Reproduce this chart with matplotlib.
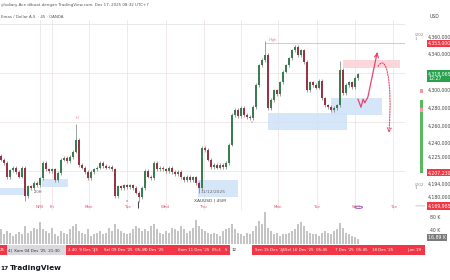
import numpy as np
import matplotlib
matplotlib.use("Agg")
from matplotlib import pyplot as plt
from matplotlib import patches
from matplotlib.path import Path
import matplotlib.transforms as mtransforms

# closing prices, one per 45m candle
closes = [4222, 4218, 4202, 4210, 4213, 4208, 4203, 4213, 4181, 4192,
          4190, 4196, 4193, 4201, 4218, 4211, 4209, 4211, 4199, 4207,
          4222, 4224, 4220, 4225, 4231, 4244, 4216, 4213, 4208, 4201,
          4208, 4211, 4213, 4218, 4215, 4213, 4214, 4211, 4181, 4192,
          4190, 4193, 4191, 4193, 4190, 4185, 4180, 4190, 4209, 4203,
          4201, 4218, 4211, 4213, 4211, 4209, 4213, 4208, 4206, 4208,
          4202, 4199, 4203, 4199, 4202, 4196, 4190, 4235, 4233, 4222,
          4214, 4216, 4213, 4216, 4214, 4218, 4239, 4272, 4278, 4271,
          4280, 4272, 4270, 4269, 4281, 4306, 4328, 4334, 4340, 4280,
          4289, 4300, 4296, 4309, 4321, 4328, 4336, 4345, 4349, 4340,
          4345, 4332, 4300, 4309, 4306, 4303, 4311, 4291, 4283, 4281,
          4278, 4280, 4283, 4323, 4297, 4306, 4309, 4304, 4314, 4318]
first_open = 4226
hi_spike = {25: 4262, 88: 4356, 113: 4333}
lo_spike = {8: 4176, 46: 4174, 66: 4184}

# volume in K
volume = [45, 30, 40, 35, 25, 30, 38, 30, 55, 35, 40, 50, 45, 67,
          45, 40, 35, 50, 30, 25, 40, 35, 30, 45, 55, 60, 40, 35,
          30, 45, 25, 30, 35, 40, 30, 35, 50, 40, 60, 45, 40, 35,
          30, 35, 45, 55, 50, 40, 45, 40, 55, 60, 45, 35, 30, 40,
          35, 50, 45, 40, 55, 45, 35, 40, 50, 75, 55, 45, 40, 35,
          30, 35, 30, 25, 40, 45, 50, 60, 45, 35, 30, 25, 35, 30,
          40, 55, 70, 60, 98, 50, 40, 30, 35, 25, 30, 30, 35, 40,
          45, 60, 67, 55, 40, 35, 30, 30, 25, 35, 40, 35, 30, 40,
          45, 65, 50, 35, 30, 25, 20, 15]

day_pos = [13, 17, 29.3, 42, 54.7, 67.3, 92.3, 105.3, 118, 130.7]
day_lbl = ['NFB', 'Fri', 'Mon', 'Tue', 'Wed', 'Thu', 'Mon', 'Tue', 'We', 'Tue']
grid_x = [13, 17, 29.3, 42, 55, 67.7, 80, 92.3, 105.3, 118, 130.7]
grid_p = [4319.5, 4264, 4209]

price_ticks = [4360, 4340, 4300, 4280, 4260, 4240, 4225, 4194, 4180]
price_tick_lbl = ['4,360,000', '4,340,000', '4,300,000', '4,280,000', '4,260,000',
                  '4,240,000', '4,225,000', '4,194,000', '4,180,000']
red_marks = [(4353, '4,353,000'), (4207.2, '4,207,230'), (4170, '4,169,985')]
last_price = 4318

# drawn zones: (i0, i1, p_low, p_high)
blue_zones = [(-0.4, 8, 4182, 4190), (13.7, 22.3, 4191, 4200), (65.7, 79, 4180, 4199),
              (89, 115.3, 4255, 4274.5), (110, 127, 4272, 4291)]
pink_zone = (114, 133, 4325, 4334)

UP = '#3a7d50'
DOWN = '#9b3346'
RED = '#f23645'
ARROW = '#e8456b'

fig = plt.figure(figsize=(4.5, 2.8), dpi=100)
fig.patch.set_facecolor('white')

ax = fig.add_axes([0, 1 - 210 / 280, 405 / 450, 190 / 280])
axv = fig.add_axes([0, 1 - 244 / 280, 405 / 450, 34 / 280])
for a in (ax, axv):
    a.set_xlim(-1 / 3, 134.67)
    a.axis('off')
ax.set_ylim(4165.4, 4379.1)
axv.set_ylim(0, 104.6)

# grid
for gx in grid_x:
    ax.axvline(gx, color='#efe4e6', lw=0.6, zorder=0)
for gp in grid_p:
    ax.axhline(gp, color='#efe4e6', lw=0.6, zorder=0)
ax.axhline(4374.6, color='#e4e4e4', lw=0.6, zorder=0)

# zones
for i0, i1, p0, p1 in blue_zones:
    ax.add_patch(patches.Rectangle((i0, p0), i1 - i0, p1 - p0, facecolor='#cfe2f8',
                                   edgecolor='none', alpha=0.85, zorder=1))
i0, i1, p0, p1 = pink_zone
ax.add_patch(patches.Rectangle((i0, p0), i1 - i0, p1 - p0, facecolor='#fbd3d8',
                               edgecolor='none', alpha=0.9, zorder=1))
ax.plot([88, 134.67], [4353, 4353], color='#f6a0aa', lw=0.5, zorder=1)

# candles
x = np.arange(len(closes))
c = np.array(closes, dtype=float)
o = np.concatenate([[first_open], c[:-1]])
hi = np.maximum(o, c) + 2
lo = np.minimum(o, c) - 2
for k, v in hi_spike.items():
    hi[k] = v
for k, v in lo_spike.items():
    lo[k] = v
cols = [UP if cc >= oo else DOWN for oo, cc in zip(o, c)]
ax.vlines(x, lo, hi, color='#7a7a7a', lw=0.5, zorder=2)
ax.bar(x, np.maximum(np.abs(c - o), 0.8), bottom=np.minimum(o, c), width=0.55,
       color=cols, edgecolor='none', zorder=3)

# volume
axv.bar(x, volume, width=0.75, color='#c4c4c4', edgecolor='none')

# arrows
zig = [(119, 4290), (120, 4281), (120.7, 4290), (121.3, 4286), (122.3, 4292.5), (125.3, 4341)]
ax.plot([p[0] for p in zig], [p[1] for p in zig], color=ARROW, lw=0.9, zorder=5)
ax.annotate('', xy=(125.6, 4346), xytext=(125.2, 4338),
            arrowprops=dict(arrowstyle='->', color=ARROW, lw=0.9, mutation_scale=7), zorder=5)
verts = [(125.7, 4327), (128.3, 4342), (130.6, 4312), (129.3, 4252)]
curve = patches.FancyArrowPatch(path=Path(verts, [Path.MOVETO, Path.CURVE4, Path.CURVE4, Path.CURVE4]),
                                arrowstyle='->', mutation_scale=7, color=ARROW, lw=0.8,
                                linestyle=(0, (1.2, 1.2)), zorder=5)
ax.add_patch(curve)

# small chart marks
ax.text(25.5, 4269, 'H', color='#e8788a', fontsize=2.6, ha='center', va='center')
ax.text(90.5, 4356.5, 'High', color='#e8788a', fontsize=2.6, ha='center', va='center')
ax.text(42, 4175, 'x', color='#e0506a', fontsize=2.8, ha='center', va='center')
ax.text(83.7, 4264, 'x', color='#999999', fontsize=2.8, ha='center', va='center')
ax.text(11, 4186, '2.0H', color='#555555', fontsize=2.6, ha='left', va='center')
ax.text(66.5, 4186, '11/12/2025', color='#666666', fontsize=3.2, ha='left', va='center')
ax.text(64.5, 4176.5, 'XAUUSD | 45M', color='#444444', fontsize=3.2, ha='left', va='center')
ax.vlines(45.7, 4168, 4175, color='#222222', lw=0.6)
for dp, dl in zip(day_pos, day_lbl):
    ax.text(dp, 4168.5, dl, color='#e0506a', fontsize=2.9, ha='center', va='center')
ax.add_patch(patches.Circle((119.2, 4168.5), 1.3, transform=ax.transData, fill=False,
                            edgecolor='#8e44ad', lw=0.6))
ax.text(119.2, 4168.5, '⚡', color='#8e44ad', fontsize=2.4, ha='center', va='center')

# price scale
tr = mtransforms.blended_transform_factory(ax.transAxes, ax.transData)
xl = 428 / 405
for p, s in zip(price_ticks, price_tick_lbl):
    ax.text(xl, p, s, transform=tr, fontsize=3.3, color='#444444', va='center',
            ha='left', clip_on=False)
for p, s in red_marks:
    ax.text(xl, p, s, transform=tr, fontsize=3.3, color='white', va='center', ha='left',
            clip_on=False, bbox=dict(boxstyle='square,pad=0.25', fc=RED, ec='none'))
ax.text(xl, last_price - 2, '4,318,065\n12:27', transform=tr, fontsize=3.3, color='white',
        va='center', ha='left', linespacing=0.9, clip_on=False,
        bbox=dict(boxstyle='square,pad=0.25', fc='#2aa14f', ec='none'))
ax.text(415 / 405, 4360, '(202\n1', transform=tr, fontsize=3, color='#888888',
        va='center', ha='left', linespacing=0.9, clip_on=False)
ax.text(415 / 405, 4192, '(202\n1', transform=tr, fontsize=3, color='#888888',
        va='center', ha='left', linespacing=0.9, clip_on=False)
ax.add_patch(patches.Rectangle((420 / 405, 4207), 3 / 405, 82, transform=tr,
                               fc='#5cb85c', ec='none', clip_on=False))
ax.add_patch(patches.Rectangle((420 / 405, 4276), 3 / 405, 4, transform=tr,
                               fc='#f29aa3', ec='none', clip_on=False))
ax.add_patch(patches.Rectangle((420 / 405, 4297), 3 / 405, 4, transform=tr,
                               fc='#f29aa3', ec='none', clip_on=False))
ax.add_patch(patches.Circle((1.038, 4170), 0.012, transform=tr, fc='#3b5ba9',
                            ec='#d0d0d0', lw=0.4, clip_on=False))

trv = mtransforms.blended_transform_factory(axv.transAxes, axv.transData)
axv.text(xl + 0.005, 80, '80 K', transform=trv, fontsize=3.3, color='#444444', va='center',
         clip_on=False)
axv.text(xl + 0.005, 40, '40 K', transform=trv, fontsize=3.3, color='#444444', va='center',
         clip_on=False)
axv.text(xl, 20, '16.89 K', transform=trv, fontsize=3.3, color='white', va='center',
         clip_on=False, bbox=dict(boxstyle='square,pad=0.25', fc='#7a7a7a', ec='none'))

# header
fig.text(1 / 450, 1 - 5 / 280, 'yfxdiary-Ace dibuat dengan TradingView.com, Des 17, 2025 08:32 UTC+7',
         fontsize=2.9, color='#555555', va='center')
fig.text(1 / 450, 1 - 17 / 280, 'Emas / Dollar A.S. · 45 · OANDA', fontsize=2.9,
         color='#555555', va='center')
fig.text(430 / 450, 1 - 17 / 280, 'USD', fontsize=3.3, color='#444444', va='center')

# time axis strip
fig.patches.append(patches.Rectangle((0, 1 - 255 / 280), 230 / 450, 10 / 280,
                                     transform=fig.transFigure, fc=RED, ec='none'))
fig.patches.append(patches.Rectangle((7 / 450, 1 - 255 / 280), 59 / 450, 10 / 280,
                                     transform=fig.transFigure, fc='#d9d9de', ec='none'))
fig.patches.append(patches.Rectangle((252 / 450, 1 - 255 / 280), 173 / 450, 10 / 280,
                                     transform=fig.transFigure, fc=RED, ec='none'))
ty = 1 - 250 / 280
strip = [(0, '25', 'white'), (8, "4|  Kam 04 Des '25  21:30", '#333333'),
         (68, "2.40  9 Des '25", 'white'), (94, '|', 'white'),
         (104, "Sel 09 Des '25  05:45", 'white'), (145, "0 Des '25", 'white'),
         (178, "Kam 11 Des '25  05:4", 'white'), (225, '5', 'white'),
         (232, '12', '#222222'), (255, "Sen 15 Des '25", 'white'), (281, '|', 'white'),
         (285, "Sel 16 Des '25  05:45", 'white'), (335, "7 Des '25  05:45", 'white'),
         (372, "18 Des '25", 'white'), (407, 'Jum 19', 'white')]
for px, s, col in strip:
    fig.text(px / 450, ty, s, fontsize=2.9, color=col, va='center', ha='left')

# logo
fig.text(0.5 / 450, 1 - 268 / 280, '17', fontsize=4.2, color='#131722', va='center',
         fontweight='bold')
fig.text(10 / 450, 1 - 268 / 280, 'TradingView', fontsize=5.3, color='#131722',
         va='center', fontweight='bold')

fig.savefig('out.png', dpi=100, facecolor='white')
